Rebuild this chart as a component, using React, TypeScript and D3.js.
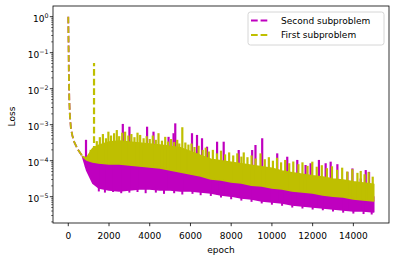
import React from "react";
import * as d3 from "d3";

// ---- data ----
const descentEpochs = [0, 15, 30, 50, 80, 130, 200, 300, 480, 700];
const descentLoss = [1.0, 0.15, 0.025, 5e-3, 1.8e-3, 8e-4, 5e-4, 3.2e-4, 2e-4, 1.31e-4];

const bandEpochs = [700, 900, 1200, 1500, 2000, 2500, 3000, 3500, 4000, 4500, 5000, 5500, 6000, 6500, 7000, 7500, 8000, 8500, 9000, 9500, 10000, 10500, 11000, 11500, 12000, 12500, 13000, 13500, 14000, 14500, 15000];

const firstHigh = [1.31e-4, 1.19e-4, 2.2e-4, 2.7e-4, 3.3e-4, 3.5e-4, 3.3e-4, 3.1e-4, 2.9e-4, 2.7e-4, 2.5e-4, 2.3e-4, 1.8e-4, 1.4e-4, 1.1e-4, 1.0e-4, 9.0e-5, 8.2e-5, 7.4e-5, 6.8e-5, 6.2e-5, 5.2e-5, 4.6e-5, 4.2e-5, 3.8e-5, 3.5e-5, 3.1e-5, 2.9e-5, 2.6e-5, 2.4e-5, 2.2e-5];
const firstLow = [1.31e-4, 1.05e-4, 9.2e-5, 8.6e-5, 8.1e-5, 8.1e-5, 7.6e-5, 7.1e-5, 6.7e-5, 6.3e-5, 5.5e-5, 4.85e-5, 4.27e-5, 3.76e-5, 3.1e-5, 2.9e-5, 2.56e-5, 2.4e-5, 2.1e-5, 1.98e-5, 1.75e-5, 1.64e-5, 1.44e-5, 1.35e-5, 1.27e-5, 1.11e-5, 1.04e-5, 9.8e-6, 8.6e-6, 8.1e-6, 7.6e-6];

const secondHigh = [1.31e-4, 1.0e-4, 1.0e-4, 1.0e-4, 1.0e-4, 1.0e-4, 9.5e-5, 9e-5, 8.5e-5, 8e-5, 7e-5, 6.2e-5, 5.5e-5, 4.8e-5, 4e-5, 3.8e-5, 3.3e-5, 3.1e-5, 2.7e-5, 2.5e-5, 2.2e-5, 2.1e-5, 1.8e-5, 1.7e-5, 1.6e-5, 1.4e-5, 1.3e-5, 1.25e-5, 1.1e-5, 1.05e-5, 1e-5];
const secondLow = [1.31e-4, 5.5e-5, 2.4e-5, 1.75e-5, 1.53e-5, 1.44e-5, 1.53e-5, 1.64e-5, 1.64e-5, 1.53e-5, 1.53e-5, 1.44e-5, 1.44e-5, 1.35e-5, 1.27e-5, 1.11e-5, 1.04e-5, 9.2e-6, 8.6e-6, 7.6e-6, 7.1e-6, 6.7e-6, 5.9e-6, 5.5e-6, 5.2e-6, 4.9e-6, 4.55e-6, 4.27e-6, 4.0e-6, 4.0e-6, 3.76e-6];

const firstSpikeEpochs = [1100, 1265, 1400, 1550, 1700, 1850, 1970, 2100, 2250, 2383, 2500, 2650, 2792, 2950, 3100, 3250, 3400, 3530, 3700, 3850, 4000, 4150, 4300, 4431, 4600, 4761, 4900, 5050, 5200, 5350, 5450, 5600, 5750, 5900, 6050, 6200, 6400, 6600, 6750, 6900, 7100, 7300, 7500, 7700, 7900, 8100, 8300, 8500, 8617, 8800, 9000, 9200, 9439, 9650, 9850, 10050, 10250, 10450, 10650, 10850, 11050, 11300, 11500, 11750, 11984, 12200, 12450, 12700, 12950, 13200, 13450, 13700, 13950, 14200, 14362, 14550, 14750, 14950];
const firstSpikeLoss = [2.0e-4, 0.052, 3.5e-4, 4.5e-4, 5.5e-4, 4.2e-4, 6.4e-4, 5.0e-4, 5.8e-4, 7.1e-4, 4.8e-4, 6.0e-4, 6.4e-4, 5.0e-4, 5.5e-4, 4.5e-4, 6.0e-4, 5.2e-4, 4.2e-4, 4.8e-4, 4.0e-4, 5.0e-4, 3.8e-4, 5.8e-4, 3.6e-4, 4.6e-4, 3.4e-4, 4.0e-4, 3.3e-4, 3.8e-4, 3.0e-4, 8.5e-4, 3.2e-4, 2.8e-4, 3.0e-4, 2.4e-4, 2.6e-4, 2.0e-4, 2.3e-4, 1.8e-4, 2.0e-4, 1.6e-4, 1.9e-4, 1.5e-4, 1.7e-4, 1.4e-4, 1.6e-4, 1.3e-4, 1.7e-4, 1.25e-4, 1.4e-4, 1.15e-4, 1.6e-4, 1.1e-4, 1.25e-4, 1.0e-4, 1.2e-4, 9.0e-5, 1.05e-4, 8.5e-5, 9.5e-5, 8.0e-5, 9.0e-5, 7.2e-5, 9.4e-5, 6.8e-5, 7.5e-5, 6.2e-5, 7.0e-5, 5.6e-5, 6.4e-5, 5.0e-5, 5.8e-5, 4.6e-5, 5.2e-5, 4.2e-5, 4.8e-5, 3.6e-5];

const secondSpikeEpochs = [871, 2678, 3003, 3870, 4185, 4924, 5170, 5254, 6076, 6322, 6568, 6814, 7307, 7632, 8370, 9030, 9193, 9523, 10261, 10753, 11246, 11654, 11901, 12309, 12639, 12885, 13215, 13707, 13954, 14362, 14608, 14771];
const secondSpikeLoss = [3.8e-4, 1.05e-3, 8.8e-4, 8.8e-4, 6.4e-4, 4.6e-4, 5.8e-4, 1.09e-3, 5.8e-4, 5.2e-4, 4.2e-4, 2.45e-4, 3.37e-4, 3.37e-4, 1.98e-4, 1.98e-4, 2.73e-4, 4.2e-4, 1.6e-4, 1.29e-4, 1.05e-4, 7.6e-5, 8.5e-5, 1.05e-4, 8.5e-5, 9.4e-5, 8.0e-5, 4.9e-5, 6.1e-5, 3.2e-5, 5.5e-5, 4.9e-5];

const secondDipEpochs = [1500, 1800, 2200, 2600, 3000, 3400, 3800, 4300, 4700, 5200, 5600, 6100, 6500, 7000, 7500, 8000, 8500, 9000, 9500, 10000, 10500, 11000, 11500, 12000, 12500, 13000, 13500, 14000, 14500, 14900];
const secondDipLoss = [1.4e-5, 1.3e-5, 1.35e-5, 1.25e-5, 1.3e-5, 1.35e-5, 1.25e-5, 1.3e-5, 1.2e-5, 1.25e-5, 1.15e-5, 1.2e-5, 1.1e-5, 1.05e-5, 9.5e-6, 8.5e-6, 7.8e-6, 7.2e-6, 6.5e-6, 6.0e-6, 5.6e-6, 5.0e-6, 4.7e-6, 4.4e-6, 4.2e-6, 3.9e-6, 3.6e-6, 3.4e-6, 3.3e-6, 3.2e-6];

const xTicks = [0, 2000, 4000, 6000, 8000, 10000, 12000, 14000];
const yExponents = [0, -1, -2, -3, -4, -5];
const seriesNames = ["Second subproblem", "First subproblem"];

const MAGENTA = "#bf00bf";
const YELLOW = "#bfbf00";
const FONT = "DejaVu Sans, sans-serif";
const DASH = "6.7 2.9";

export default function App() {
  const W = 394, H = 262;
  const L = 53, R = 389, T = 6, B = 223;
  const x = d3.scaleLinear().domain([-750, 15750]).range([L, R]);
  const y = d3.scaleLog().domain([1.86e-6, 1.98]).range([B, T]);

  const descent = d3.line<number>().x((_, i) => x(descentEpochs[i])).y((d) => y(d));
  const band = (low: number[], high: number[]) =>
    d3.area<number>()
      .x((e) => x(e))
      .y0((_, i) => y(low[i]))
      .y1((_, i) => y(high[i]))(bandEpochs) || "";

  const firstLowAt = d3.scaleLinear().domain(bandEpochs).range(firstLow).clamp(true);
  const secondLowAt = d3.scaleLinear().domain(bandEpochs).range(secondLow).clamp(true);
  const secondHighAt = d3.scaleLinear().domain(bandEpochs).range(secondHigh).clamp(true);

  const minor: number[] = [];
  for (let p = -6; p <= 0; p++) {
    for (let m = 2; m <= 9; m++) {
      const v = m * Math.pow(10, p);
      if (v >= 1.86e-6 && v <= 1.98) minor.push(v);
    }
  }

  const colors = [MAGENTA, YELLOW];
  const legendRows = [20.5, 35];

  return (
    <svg width={W} height={H} style={{ position: "absolute", left: 0, top: 0, background: "#fff" }} fontFamily={FONT}>
      <rect x={0} y={0} width={W} height={H} fill="#fff" />
      <defs>
        <clipPath id="plot">
          <rect x={L} y={T} width={R - L} height={B - T} />
        </clipPath>
      </defs>
      <g clipPath="url(#plot)">
        {/* second subproblem (magenta) */}
        <path d={band(secondLow, secondHigh)} fill={MAGENTA} stroke={MAGENTA} strokeWidth={1.6} strokeLinejoin="round" />
        {secondDipEpochs.map((e, i) => (
          <line key={"d" + i} x1={x(e)} x2={x(e)} y1={y(secondHighAt(e))} y2={y(secondDipLoss[i])}
            stroke={MAGENTA} strokeWidth={2} />
        ))}
        {secondSpikeEpochs.map((e, i) => (
          <line key={"s" + i} x1={x(e)} x2={x(e)} y1={y(secondLowAt(e))} y2={y(secondSpikeLoss[i])}
            stroke={MAGENTA} strokeWidth={2.2} />
        ))}
        <path d={descent(descentLoss) || ""} fill="none" stroke={MAGENTA} strokeWidth={1.8} strokeDasharray={DASH} />
        {/* first subproblem (yellow) */}
        <path d={band(firstLow, firstHigh)} fill={YELLOW} stroke={YELLOW} strokeWidth={1.6} strokeLinejoin="round" />
        {firstSpikeEpochs.map((e, i) => (
          <line key={"f" + i} x1={x(e)} x2={x(e)} y1={y(firstLowAt(e))} y2={y(firstSpikeLoss[i])}
            stroke={YELLOW} strokeWidth={2.2} strokeDasharray={firstSpikeLoss[i] > 0.01 ? DASH : undefined} />
        ))}
        <path d={descent(descentLoss) || ""} fill="none" stroke={YELLOW} strokeWidth={1.8} strokeDasharray={DASH} />
      </g>

      {/* axes frame */}
      <rect x={L} y={T} width={R - L} height={B - T} fill="none" stroke="#000" strokeWidth={0.8} />

      {/* x ticks */}
      {xTicks.map((t) => (
        <g key={"xt" + t}>
          <line x1={x(t)} x2={x(t)} y1={B} y2={B + 3.2} stroke="#000" strokeWidth={0.8} />
          <text x={x(t)} y={B + 16} fontSize={9} textAnchor="middle" fill="#000">{t}</text>
        </g>
      ))}
      <text x={(L + R) / 2} y={253} fontSize={9} textAnchor="middle" fill="#000">epoch</text>

      {/* y ticks */}
      {minor.map((v, i) => (
        <line key={"ym" + i} x1={L - 1.8} x2={L} y1={y(v)} y2={y(v)} stroke="#000" strokeWidth={0.6} />
      ))}
      {yExponents.map((p) => {
        const yy = y(Math.pow(10, p));
        return (
          <g key={"yt" + p}>
            <line x1={L - 3.2} x2={L} y1={yy} y2={yy} stroke="#000" strokeWidth={0.8} />
            <text x={48.5} y={yy + 5.2} fontSize={9} textAnchor="end" fill="#000">
              10<tspan fontSize={6.3} dy={-4}>{p < 0 ? "\u2212" + Math.abs(p) : String(p)}</tspan>
            </text>
          </g>
        );
      })}
      <text transform={`translate(15,${(T + B) / 2 + 2}) rotate(-90)`} fontSize={9} textAnchor="middle" fill="#000">Loss</text>

      {/* legend */}
      <rect x={248} y={12} width={136} height={33} rx={2.5} fill="#fff" fillOpacity={0.8} stroke="#cccccc" strokeWidth={0.8} />
      {seriesNames.map((name, i) => (
        <g key={name}>
          <line x1={251} x2={270} y1={legendRows[i]} y2={legendRows[i]} stroke={colors[i]} strokeWidth={1.8} strokeDasharray={DASH} />
          <text x={281} y={legendRows[i] + 3.3} fontSize={9} fill="#000">{name}</text>
        </g>
      ))}
    </svg>
  );
}
